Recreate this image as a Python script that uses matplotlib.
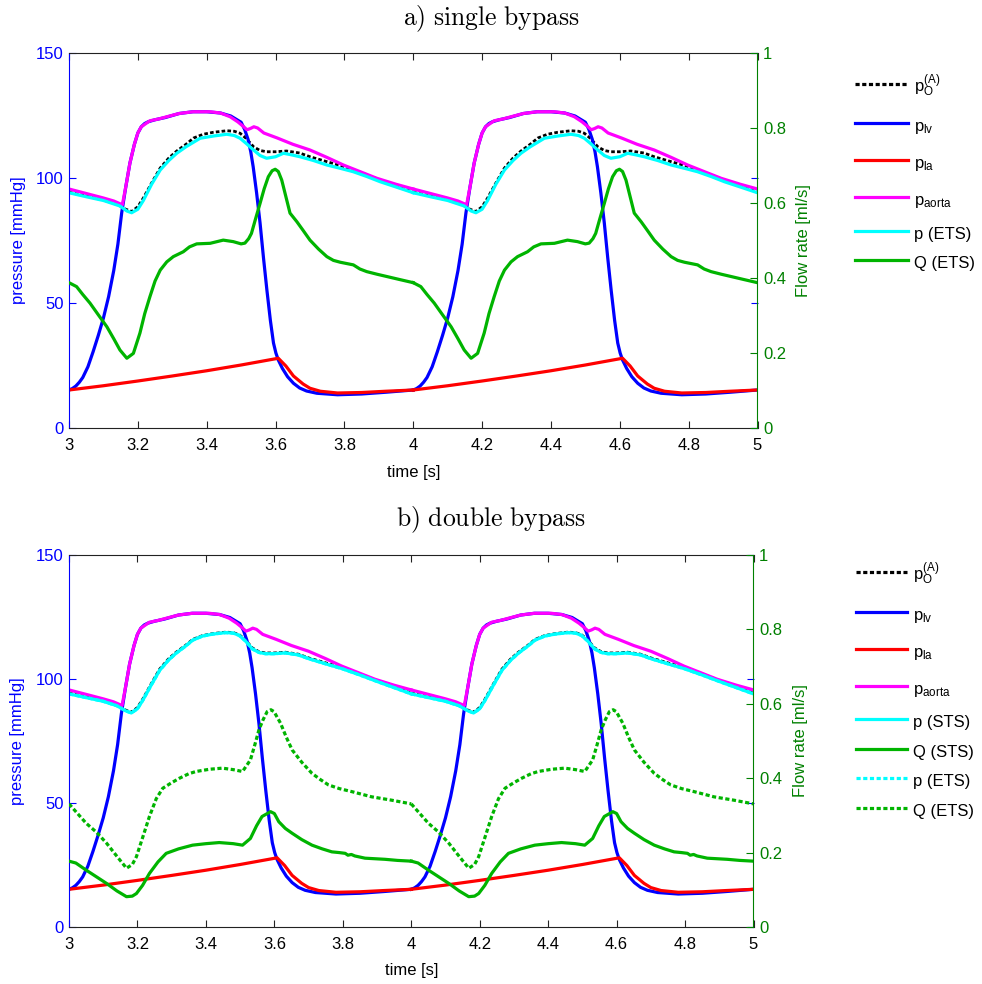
import numpy as np
import matplotlib
matplotlib.use('Agg')
import matplotlib.pyplot as plt
from matplotlib.lines import Line2D

plt.rcParams['font.family'] = ['Liberation Sans', 'DejaVu Sans']
plt.rcParams['mathtext.fontset'] = 'custom'
plt.rcParams['mathtext.rm'] = 'Liberation Sans'
plt.rcParams['mathtext.it'] = 'Liberation Sans:italic'
plt.rcParams['mathtext.bf'] = 'Liberation Sans:bold'

# ---- one cardiac cycle (3.0 s -> 4.0 s), repeated for the second beat ----
PERIOD = 1.0

# left ventricle pressure [mmHg]
t_lv = [3.00, 3.01, 3.02, 3.03, 3.04, 3.055, 3.07, 3.085, 3.10, 3.115, 3.13,
        3.142, 3.153, 3.165, 3.177, 3.19, 3.20, 3.21, 3.22, 3.23, 3.25, 3.28,
        3.32, 3.36, 3.40, 3.44, 3.47, 3.50, 3.51, 3.52, 3.528, 3.535, 3.545,
        3.555, 3.565, 3.575, 3.585, 3.594, 3.601, 3.608, 3.62, 3.635, 3.652,
        3.67, 3.69, 3.72, 3.78, 3.85, 3.92, 4.00]
p_lv = [15.2, 15.8, 16.8, 18.3, 20.2, 24.5, 30.5, 37.0, 44.0, 52.5, 63.0,
        73.5, 86.0, 96.5, 106.0, 113.5, 118.0, 120.5, 121.8, 122.5, 123.3, 124.2,
        125.8, 126.5, 126.5, 126.0, 124.8, 122.3, 119.5, 115.5, 110.5, 104.5, 94.0,
        82.0, 68.0, 55.0, 43.0, 34.0, 30.0, 27.2, 23.8, 20.5, 17.9,
        16.0, 14.8, 13.9, 13.3, 13.6, 14.3, 15.2]

# left atrium pressure [mmHg]
t_la = [3.00, 3.10, 3.20, 3.30, 3.40, 3.50, 3.608, 3.63, 3.652, 3.68, 3.70,
        3.73, 3.78, 3.85, 3.92, 4.00]
p_la = [15.2, 16.9, 18.8, 20.8, 22.9, 25.2, 27.9, 24.8, 20.8, 17.6, 15.9,
        14.7, 14.0, 14.2, 14.7, 15.2]

# aortic pressure [mmHg]
t_ao = [3.00, 3.05, 3.10, 3.13, 3.155, 3.165, 3.177, 3.19, 3.20, 3.21, 3.235,
        3.26, 3.284, 3.32, 3.36, 3.41, 3.44, 3.468, 3.49, 3.505, 3.517, 3.527,
        3.537, 3.548, 3.566, 3.605, 3.65, 3.70, 3.75, 3.797, 3.85, 3.894, 3.95, 4.00]
p_ao = [95.6, 93.8, 92.0, 90.8, 89.3, 96.5, 106.0, 113.5, 118.0, 120.5, 122.9,
        123.6, 124.5, 125.8, 126.5, 126.5, 126.0, 124.5, 122.5, 120.8, 119.3, 119.8,
        120.5, 120.0, 118.0, 116.0, 113.5, 111.2, 108.2, 105.2, 102.3, 99.9, 97.5, 95.6]

# outlet pressure p_O^(A) [mmHg]
t_po = [3.00, 3.05, 3.10, 3.14, 3.165, 3.182, 3.20, 3.216, 3.24, 3.265, 3.29,
        3.313, 3.34, 3.362, 3.39, 3.42, 3.458, 3.48, 3.497, 3.515, 3.536, 3.555,
        3.574, 3.60, 3.632, 3.67, 3.70, 3.75, 3.797, 3.85, 3.90, 3.95, 4.00]
p_po = [94.3, 92.8, 91.2, 89.5, 87.5, 86.6, 88.5, 92.0, 98.0, 104.0, 108.0,
        110.8, 113.5, 116.0, 117.5, 118.3, 118.9, 118.7, 117.9, 115.8, 112.5, 111.0,
        110.5, 110.5, 110.8, 110.0, 108.5, 106.5, 104.6, 102.0, 99.4, 96.8, 94.3]

# single bypass: pressure in the ETS graft [mmHg]
t_pe1 = [3.00, 3.05, 3.10, 3.148, 3.168, 3.182, 3.20, 3.216, 3.24, 3.265, 3.29,
         3.313, 3.34, 3.381, 3.42, 3.458, 3.48, 3.497, 3.515, 3.536, 3.555, 3.574,
         3.60, 3.623, 3.645, 3.671, 3.71, 3.749, 3.79, 3.826, 3.865, 3.904, 3.95, 4.00]
p_pe1 = [94.1, 92.5, 91.0, 88.8, 86.8, 86.1, 87.5, 91.0, 97.5, 103.2, 107.0,
         109.9, 112.5, 115.9, 116.8, 117.5, 117.0, 115.9, 113.8, 111.2, 109.0, 107.9,
         108.5, 109.9, 109.3, 108.5, 107.0, 105.2, 103.8, 102.5, 100.6, 98.5, 96.4, 94.1]

# double bypass: pressure in the STS / ETS grafts [mmHg]
t_ps2 = [3.00, 3.05, 3.10, 3.14, 3.165, 3.182, 3.20, 3.216, 3.24, 3.265, 3.29,
         3.313, 3.34, 3.362, 3.39, 3.42, 3.458, 3.48, 3.497, 3.515, 3.536, 3.555,
         3.574, 3.60, 3.632, 3.67, 3.70, 3.75, 3.797, 3.85, 3.90, 3.95, 4.00]
p_ps2 = [94.0, 92.5, 91.0, 89.2, 87.2, 86.3, 88.0, 91.5, 97.5, 103.5, 107.5,
         110.4, 113.2, 115.7, 117.3, 118.1, 118.7, 118.5, 117.6, 115.4, 112.1, 110.7,
         110.2, 110.2, 110.5, 109.7, 108.2, 106.1, 104.2, 101.6, 99.0, 96.5, 94.0]
p_pe2 = list(p_ps2)

# single bypass: flow rate in the ETS graft [ml/s]
t_qe1 = [3.00, 3.022, 3.04, 3.061, 3.085, 3.11, 3.13, 3.148, 3.168, 3.187, 3.206,
         3.22, 3.235, 3.25, 3.265, 3.284, 3.303, 3.332, 3.35, 3.371, 3.41, 3.448,
         3.477, 3.50, 3.511, 3.522, 3.530, 3.542, 3.555, 3.567, 3.579, 3.59, 3.599,
         3.608, 3.618, 3.63, 3.642, 3.662, 3.68, 3.70, 3.725, 3.749, 3.768, 3.788,
         3.826, 3.845, 3.865, 3.895, 3.923, 3.96, 4.00]
q_qe1 = [0.3875, 0.377, 0.356, 0.333, 0.302, 0.270, 0.238, 0.208, 0.186, 0.199, 0.253,
         0.305, 0.350, 0.392, 0.421, 0.443, 0.457, 0.470, 0.483, 0.491, 0.4925, 0.501,
         0.497, 0.491, 0.493, 0.505, 0.519, 0.558, 0.599, 0.638, 0.670, 0.686, 0.690,
         0.684, 0.661, 0.617, 0.573, 0.550, 0.527, 0.501, 0.477, 0.457, 0.447, 0.442,
         0.435, 0.424, 0.417, 0.410, 0.404, 0.396, 0.3875]

# double bypass: flow rate in the STS graft [ml/s]
t_qs2 = [3.00, 3.02, 3.05, 3.08, 3.11, 3.14, 3.168, 3.185, 3.197, 3.215, 3.235,
         3.26, 3.284, 3.32, 3.361, 3.40, 3.439, 3.48, 3.507, 3.53, 3.548, 3.564,
         3.589, 3.60, 3.613, 3.632, 3.652, 3.68, 3.71, 3.74, 3.768, 3.79, 3.807,
         3.815, 3.825, 3.835, 3.865, 3.923, 3.96, 4.00]
q_qs2 = [0.177, 0.172, 0.153, 0.135, 0.117, 0.097, 0.0815, 0.083, 0.090, 0.112, 0.144,
         0.175, 0.198, 0.210, 0.220, 0.224, 0.227, 0.224, 0.220, 0.238, 0.272, 0.297,
         0.310, 0.305, 0.283, 0.265, 0.252, 0.235, 0.220, 0.210, 0.202, 0.200, 0.198,
         0.193, 0.195, 0.191, 0.185, 0.182, 0.179, 0.177]

# double bypass: flow rate in the ETS graft [ml/s]
t_qe2 = [3.00, 3.025, 3.05, 3.08, 3.11, 3.14, 3.168, 3.185, 3.197, 3.215, 3.235,
         3.255, 3.274, 3.30, 3.323, 3.35, 3.371, 3.41, 3.448, 3.48, 3.507, 3.53,
         3.543, 3.555, 3.567, 3.579, 3.59, 3.599, 3.618, 3.635, 3.652, 3.68, 3.71,
         3.735, 3.758, 3.79, 3.826, 3.855, 3.884, 3.942, 4.00]
q_qe2 = [0.331, 0.305, 0.279, 0.255, 0.225, 0.190, 0.158, 0.168, 0.189, 0.240, 0.297,
         0.345, 0.373, 0.388, 0.400, 0.412, 0.418, 0.424, 0.427, 0.423, 0.418, 0.449,
         0.490, 0.530, 0.557, 0.579, 0.584, 0.579, 0.548, 0.510, 0.476, 0.443, 0.413,
         0.396, 0.382, 0.372, 0.364, 0.357, 0.350, 0.341, 0.331]

x_ticks = [3, 3.2, 3.4, 3.6, 3.8, 4, 4.2, 4.4, 4.6, 4.8, 5]
x_tick_labels = ['3', '3.2', '3.4', '3.6', '3.8', '4', '4.2', '4.4', '4.6', '4.8', '5']
p_ticks = [0, 50, 100, 150]
q_ticks = [0, 0.2, 0.4, 0.6, 0.8, 1]
q_tick_labels = ['0', '0.2', '0.4', '0.6', '0.8', '1']

BLUE = '#0000ff'
RED = '#ff0000'
MAGENTA = '#ff00ff'
CYAN = '#00ffff'
GREEN = '#00b400'
AXGREEN = '#008000'
LW = 2.3
DOT = (0, (1.3, 0.8))

W, H = 982, 984
fig = plt.figure(figsize=(W / 100, H / 100), dpi=100)


def two_beats(ax, t, y, **kw):
    t = np.asarray(t)
    y = np.asarray(y)
    for k in range(2):
        ax.plot(t + k * PERIOD, y, solid_joinstyle='round', **kw)


def style_axes(ax1, ax2):
    ax1.set_xlim(3, 5)
    ax1.set_ylim(0, 150)
    ax2.set_ylim(0, 1)
    ax1.set_xticks(x_ticks)
    ax1.set_xticklabels(x_tick_labels)
    ax1.set_yticks(p_ticks)
    ax1.set_yticklabels([str(v) for v in p_ticks])
    ax2.set_yticks(q_ticks)
    ax2.set_yticklabels(q_tick_labels)

    ax1.tick_params(axis='x', direction='in', top=True, length=5, width=0.8,
                    labelsize=12, pad=7, color='#222222')
    ax1.tick_params(axis='y', direction='in', left=True, right=True, length=5,
                    width=0.8, labelsize=12, pad=4, colors=BLUE)
    ax2.tick_params(axis='y', direction='in', length=5, width=0.8,
                    labelsize=12, pad=4, colors=AXGREEN)

    ax1.spines['left'].set_color(BLUE)
    ax1.spines['right'].set_visible(False)
    for s in ('top', 'bottom'):
        ax1.spines[s].set_color('#222222')
        ax2.spines[s].set_visible(False)
    ax2.spines['left'].set_visible(False)
    ax2.spines['right'].set_color(AXGREEN)

    ax1.set_xlabel('time [s]', fontsize=12)
    ax1.xaxis.set_label_coords(0.5, -0.098)
    ax1.xaxis.label.set_va('top')
    ax1.set_ylabel('pressure [mmHg]', fontsize=12, color=BLUE)
    ax2.set_ylabel('Flow rate [ml/s]', fontsize=12, color=AXGREEN)


def legend_rows(rows, x0, x1, xt):
    # rows: (y_px, color, linestyle, label)
    for y, color, ls, label in rows:
        fig.add_artist(Line2D([x0 / W, x1 / W], [1 - y / H, 1 - y / H],
                              color=color, lw=LW, linestyle=ls))
        fig.text(xt / W, 1 - (y + 8) / H, label, fontsize=12, va='baseline',
                 ha='left')


# ---------------- a) single bypass ----------------
ax1 = fig.add_axes([69 / W, 1 - 428 / H, (757.5 - 69) / W, (428 - 53) / H])
ax2 = ax1.twinx()
two_beats(ax1, t_po, p_po, color='black', lw=2.0, linestyle=DOT)
two_beats(ax1, t_lv, p_lv, color=BLUE, lw=LW)
two_beats(ax1, t_la, p_la, color=RED, lw=LW)
two_beats(ax1, t_ao, p_ao, color=MAGENTA, lw=LW)
two_beats(ax1, t_pe1, p_pe1, color=CYAN, lw=LW)
two_beats(ax2, t_qe1, q_qe1, color=GREEN, lw=LW)
style_axes(ax1, ax2)
ax1.yaxis.set_label_coords(-0.063, 0.5)
ax2.yaxis.set_label_coords(1.056, 0.5)

fig.text(492 / W, 1 - 25 / H, r'$\mathrm{a)\ single\ bypass}$', fontsize=18.5,
         ha='center', va='baseline', math_fontfamily='cm')

legend_rows([
    (84, 'black', DOT, r'$\mathregular{p_O^{(A)}}$'),
    (123, BLUE, '-', r'$\mathregular{p_{lv}}$'),
    (160, RED, '-', r'$\mathregular{p_{la}}$'),
    (197, MAGENTA, '-', r'$\mathregular{p_{aorta}}$'),
    (231, CYAN, '-', 'p (ETS)'),
    (260, GREEN, '-', 'Q (ETS)'),
], 855, 908, 914)

# ---------------- b) double bypass ----------------
bx1 = fig.add_axes([69 / W, 1 - 927 / H, (753.5 - 69) / W, (927 - 555) / H])
bx2 = bx1.twinx()
two_beats(bx1, t_po, p_po, color='black', lw=2.0, linestyle=DOT)
two_beats(bx1, t_lv, p_lv, color=BLUE, lw=LW)
two_beats(bx1, t_la, p_la, color=RED, lw=LW)
two_beats(bx1, t_ao, p_ao, color=MAGENTA, lw=LW)
two_beats(bx1, t_ps2, p_pe2, color=CYAN, lw=LW, linestyle=DOT)
two_beats(bx1, t_ps2, p_ps2, color=CYAN, lw=LW)
two_beats(bx2, t_qs2, q_qs2, color=GREEN, lw=LW)
two_beats(bx2, t_qe2, q_qe2, color=GREEN, lw=LW, linestyle=DOT)
style_axes(bx1, bx2)
bx1.yaxis.set_label_coords(-0.064, 0.5)
bx2.yaxis.set_label_coords(1.058, 0.5)

fig.text(491 / W, 1 - 526 / H, r'$\mathrm{b)\ double\ bypass}$', fontsize=18.5,
         ha='center', va='baseline', math_fontfamily='cm')

legend_rows([
    (572, 'black', DOT, r'$\mathregular{p_O^{(A)}}$'),
    (612, BLUE, '-', r'$\mathregular{p_{lv}}$'),
    (649, RED, '-', r'$\mathregular{p_{la}}$'),
    (686, MAGENTA, '-', r'$\mathregular{p_{aorta}}$'),
    (719, CYAN, '-', 'p (STS)'),
    (749, GREEN, '-', 'Q (STS)'),
    (778, CYAN, DOT, 'p (ETS)'),
    (808, GREEN, DOT, 'Q (ETS)'),
], 856, 907, 913)

fig.savefig('out.png', dpi=100)
